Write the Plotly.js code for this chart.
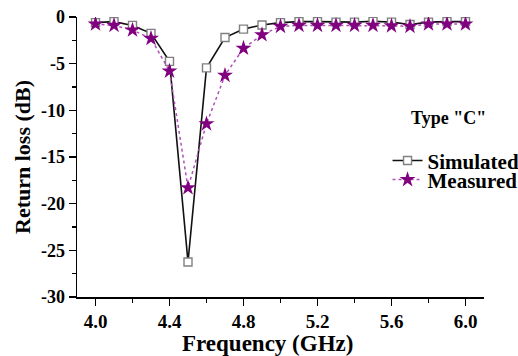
<!DOCTYPE html>
<html>
<head>
<meta charset="utf-8">
<script src="https://cdn.plot.ly/plotly-3.0.1.min.js"></script>
<style>html,body{margin:0;padding:0;background:#fff;font-family:'Liberation Serif';font-weight:bold;}#chart{width:518px;height:356px;}</style>
</head>
<body>
<div id="chart"></div>
<script>
const frequency = [4.0,4.1,4.2,4.3,4.4,4.5,4.6,4.7,4.8,4.9,5.0,5.1,5.2,5.3,5.4,5.5,5.6,5.7,5.8,5.9,6.0];
const simulated = [-0.6,-0.5,-0.9,-1.75,-4.75,-26.25,-5.45,-2.2,-1.3,-0.85,-0.6,-0.5,-0.5,-0.55,-0.55,-0.45,-0.55,-0.8,-0.55,-0.5,-0.5];
const measured = [-0.75,-0.9,-1.4,-2.3,-5.8,-18.3,-11.45,-6.25,-3.35,-1.9,-1.0,-0.9,-0.9,-0.9,-0.9,-0.9,-0.95,-1.0,-0.75,-0.75,-0.75];
const xTickVals = [4.0,4.4,4.8,5.2,5.6,6.0];
const xTickText = ["4.0","4.4","4.8","5.2","5.6","6.0"];
const yTickVals = [0,-5,-10,-15,-20,-25,-30];
const yTickText = ["0","-5","-10","-15","-20","-25","-30"];
const legendTitle = 'Type "C"';
const xTitle = "Frequency (GHz)";
const yTitle = "Return loss (dB)";

const fam = "Liberation Serif";
const legendFont = {family: fam, size: 21, weight: "bold", color: "#000000"};

const traces = [
  {
    x: frequency, y: simulated, name: "Simulated", mode: "lines+markers", type: "scatter",
    legend: "legend",
    line: {color: "#111111", width: 1.6},
    marker: {symbol: "square", size: 8, color: "#ffffff", line: {color: "#808080", width: 1.4}}
  },
  {
    x: frequency, y: measured, name: "Measured", mode: "lines+markers", type: "scatter",
    legend: "legend2",
    line: {color: "#b050b8", width: 1.5, dash: "dot"},
    marker: {symbol: "star", size: 12, color: "#800080", line: {width: 0}}
  }
];

const layout = {
  width: 518, height: 356,
  margin: {l: 77, r: 34, t: 17, b: 59, autoexpand: false},
  paper_bgcolor: "#ffffff", plot_bgcolor: "#ffffff",
  showlegend: true,
  legend: {
    x: 0.763, y: 0.486, xanchor: "left", yanchor: "middle",
    font: legendFont, bgcolor: "rgba(0,0,0,0)"
  },
  legend2: {
    x: 0.763, y: 0.418, xanchor: "left", yanchor: "middle",
    font: legendFont, bgcolor: "rgba(0,0,0,0)"
  },
  xaxis: {
    range: [3.9, 6.1], automargin: false,
    showgrid: false, zeroline: false,
    showline: true, linecolor: "#000", linewidth: 1.5,
    ticks: "outside", ticklen: 7, tickwidth: 1.5, tickcolor: "#000",
    tickvals: xTickVals, ticktext: xTickText,
    tickfont: {family: fam, size: 19, weight: "bold", color: "#000000"},
    minor: {dtick: 0.2, tick0: 4.0, ticks: "outside", ticklen: 4, tickwidth: 1.2, tickcolor: "#000", showgrid: false}
  },
  yaxis: {
    range: [-30, 0], automargin: false,
    showgrid: false, zeroline: false,
    showline: true, linecolor: "#000", linewidth: 1.5,
    ticks: "outside", ticklen: 7, tickwidth: 1.5, tickcolor: "#000",
    tickvals: yTickVals, ticktext: yTickText,
    tickfont: {family: fam, size: 18, weight: "bold", color: "#000000"},
    minor: {dtick: 2.5, tick0: 0, ticks: "outside", ticklen: 4, tickwidth: 1.2, tickcolor: "#000", showgrid: false},
    title: {text: yTitle, font: {family: fam, size: 22, weight: "bold", color: "#000000"}, standoff: 4}
  },
  annotations: [
    {text: xTitle, xref: "paper", yref: "paper", x: 0.468, y: -0.165, xanchor: "center", yanchor: "middle",
     showarrow: false, font: {family: fam, size: 23, weight: "bold", color: "#000000"}},
    {text: legendTitle, xref: "paper", yref: "paper", x: 0.912, y: 0.64, xanchor: "center", yanchor: "middle",
     showarrow: false, font: {family: fam, size: 18, weight: "bold", color: "#000000"}}
  ]
};

function draw() {
  Plotly.newPlot("chart", traces, layout, {displayModeBar: false, staticPlot: true});
}
if (document.fonts && document.fonts.load) {
  Promise.all([
    document.fonts.load('bold 20px "Liberation Serif"'),
    document.fonts.load('20px "Liberation Serif"')
  ]).then(draw, draw);
} else {
  draw();
}
</script>
</body>
</html>
